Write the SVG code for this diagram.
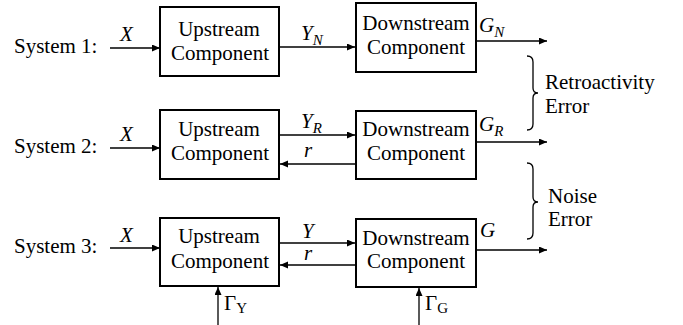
<svg xmlns="http://www.w3.org/2000/svg" width="683" height="325" viewBox="0 0 683 325" font-family="'Liberation Serif', Tinos, 'Times New Roman', 'DejaVu Serif', serif">
<defs>
<marker id="ah" markerWidth="9" markerHeight="8" refX="8" refY="3.5" orient="auto" markerUnits="userSpaceOnUse">
<path d="M0,0 L8,3.5 L0,7 z" fill="#000"/>
</marker>
<style>
text{font-family:'Liberation Serif',Tinos,'Times New Roman','DejaVu Serif',serif;font-size:21px;fill:#000}
.c{text-anchor:middle}
.i{font-style:italic}
.s{font-size:15px}
.box{fill:#fff;stroke:#000;stroke-width:2}
.ln{stroke:#000;stroke-width:1.3;fill:none}
.ar{marker-end:url(#ah)}
.br{stroke:#000;stroke-width:1.3;fill:none}
</style>
</defs>
<rect width="683" height="325" fill="#fff"/>

<g id="labels">
<text x="14" y="53">System 1:</text>
<text x="14" y="153">System 2:</text>
<text x="14" y="253">System 3:</text>
</g>

<g id="connectors">
<line class="ln ar" x1="110" y1="48" x2="160" y2="48"/>
<line class="ln ar" x1="279" y1="47" x2="355" y2="47"/>
<line class="ln ar" x1="477" y1="41" x2="547" y2="41"/>
<line class="ln ar" x1="110" y1="148" x2="160" y2="148"/>
<line class="ln ar" x1="279" y1="135" x2="355" y2="135"/>
<line class="ln ar" x1="355" y1="164" x2="280" y2="164"/>
<line class="ln ar" x1="477" y1="142" x2="547" y2="142"/>
<line class="ln ar" x1="110" y1="248" x2="160" y2="248"/>
<line class="ln ar" x1="279" y1="243" x2="355" y2="243"/>
<line class="ln ar" x1="355" y1="265" x2="280" y2="265"/>
<line class="ln ar" x1="477" y1="250" x2="547" y2="250"/>
<line class="ln ar" x1="218" y1="325" x2="218" y2="287"/>
<line class="ln ar" x1="419" y1="325" x2="419" y2="288"/>
<text class="i" x="120" y="41">X</text>
<text class="i" x="120" y="141">X</text>
<text class="i" x="120" y="242">X</text>
<text class="i" x="301" y="40">Y<tspan class="s" dy="5">N</tspan></text>
<text class="i" x="301" y="128">Y<tspan class="s" dy="5">R</tspan></text>
<text class="i" x="304" y="157">r</text>
<text class="i" x="302" y="238">Y</text>
<text class="i" x="304" y="260">r</text>
<text class="i" x="479" y="32">G<tspan class="s" dy="5">N</tspan></text>
<text class="i" x="479" y="131">G<tspan class="s" dy="5">R</tspan></text>
<text class="i" x="480" y="237">G</text>
<text x="224" y="310">Γ<tspan class="s" dy="3">Y</tspan></text>
<text x="425" y="310">Γ<tspan class="s" dy="3">G</tspan></text>
</g>

<g id="up1">
<rect class="box" x="160" y="7" width="119" height="69"/>
<text class="c" x="219" y="36">Upstream</text>
<text class="c" x="220" y="60">Component</text>
</g>
<g id="down1">
<rect class="box" x="356" y="3" width="120" height="69"/>
<text class="c" x="416" y="30">Downstream</text>
<text class="c" x="416" y="54">Component</text>
</g>
<g id="up2">
<rect class="box" x="160" y="110" width="119" height="69"/>
<text class="c" x="219" y="136">Upstream</text>
<text class="c" x="220" y="160">Component</text>
</g>
<g id="down2">
<rect class="box" x="356" y="111" width="120" height="68"/>
<text class="c" x="416" y="136">Downstream</text>
<text class="c" x="416" y="160">Component</text>
</g>
<g id="up3">
<rect class="box" x="160" y="218" width="119" height="68"/>
<text class="c" x="219" y="243">Upstream</text>
<text class="c" x="220" y="268">Component</text>
</g>
<g id="down3">
<rect class="box" x="356" y="219" width="120" height="68"/>
<text class="c" x="416" y="245">Downstream</text>
<text class="c" x="416" y="268">Component</text>
</g>

<g id="retro">
<path class="br" d="M527,56 Q533,56 533,62 L533,88 Q533,93 538,93 Q533,93 533,98 L533,124 Q533,130 527,130"/>
<text x="545" y="89">Retroactivity</text>
<text x="545" y="113">Error</text>
</g>
<g id="noise">
<path class="br" d="M527,163 Q533,163 533,169 L533,197 Q533,202 538,202 Q533,202 533,207 L533,233 Q533,239 527,239"/>
<text x="548" y="203">Noise</text>
<text x="548" y="226">Error</text>
</g>
</svg>
